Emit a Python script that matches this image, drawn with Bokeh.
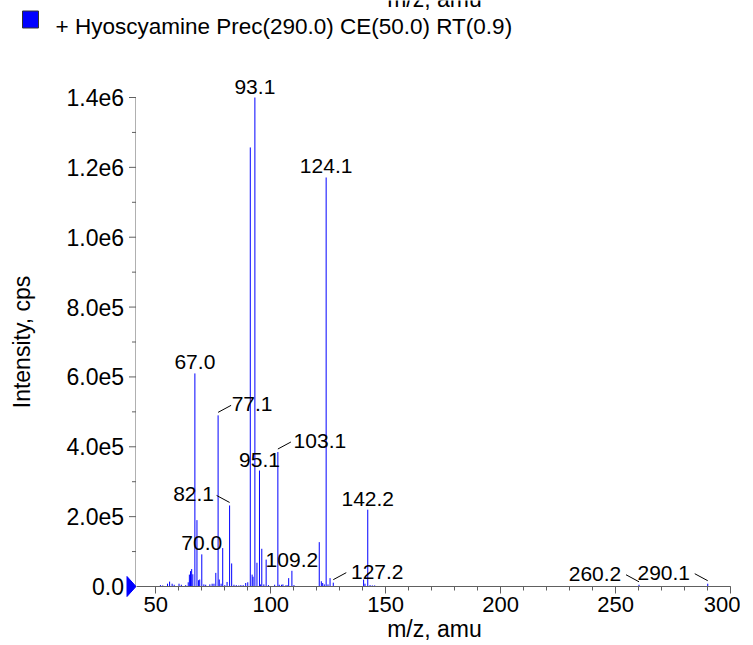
from bokeh.plotting import figure
from bokeh.layouts import column, row
from bokeh.models import Range1d, FixedTicker, LabelSet, ColumnDataSource
from bokeh.core.properties import value
from bokeh.embed import file_html
from bokeh.resources import INLINE
import math

# ---------------- data ----------------
series_name = "+ Hyoscyamine Prec(290.0) CE(50.0) RT(0.9)"
x_label = "m/z, amu"
y_label = "Intensity, cps"

mz = [52.0, 53.0, 55.1, 56.0, 57.1, 58.0, 60.1, 61.1, 63.0, 64.1, 64.6, 65.1, 65.6, 66.1,
      67.0, 67.9, 68.6, 69.1, 70.0, 70.9, 71.7, 73.5, 74.5, 75.3, 76.1, 77.1, 77.6, 78.4,
      79.1, 80.0, 81.0, 82.1, 83.0, 84.0, 85.0, 86.1, 87.0, 88.0, 89.1, 90.0, 91.1, 91.9,
      92.3, 93.1, 94.0, 95.1, 95.5, 96.1, 97.0, 98.0, 99.0, 101.7, 103.1, 103.7, 104.7,
      105.3, 106.5, 107.1, 107.8, 109.2, 110.1, 121.1, 122.0, 122.6, 123.3, 124.1, 124.9,
      125.8, 127.2, 140.4, 141.0, 142.2, 143.2, 144.2, 145.2, 260.2, 290.1]
intensity = [4e3, 3e3, 8e3, 14e3, 8e3, 5e3, 8e3, 5e3, 4e3, 12e3, 34e3, 44e3, 50e3, 35e3,
             610e3, 190e3, 18e3, 20e3, 92e3, 6e3, 5e3, 6e3, 8e3, 8e3, 39e3, 490e3, 20e3, 8e3,
             110e3, 4e3, 13e3, 232e3, 66e3, 5e3, 4e3, 3e3, 4e3, 4e3, 10e3, 12e3, 1257e3, 34e3,
             28e3, 1400e3, 68e3, 332e3, 6e3, 108e3, 6e3, 77e3, 4e3, 5e3, 385e3, 5e3, 5e3,
             6e3, 3e3, 4e3, 24e3, 45e3, 4e3, 127e3, 15e3, 10e3, 6e3, 1171e3, 6e3,
             24e3, 11e3, 20e3, 8e3, 220e3, 4e3, 3e3, 3e3, 5e3, 8e3]

labelled_mz = [67.0, 70.0, 77.1, 82.1, 93.1, 95.1, 103.1, 109.2, 124.1, 127.2, 142.2, 260.2, 290.1]

x_ticks = [50, 100, 150, 200, 250, 300]
y_ticks = [0, 200000, 400000, 600000, 800000, 1000000, 1200000, 1400000]
y_tick_labels = ["0.0", "2.0e5", "4.0e5", "6.0e5", "8.0e5", "1.0e6", "1.2e6", "1.4e6"]
y_minor_step = 100000

# ---------------- layout / style ----------------
FONT = "Liberation Sans"
XA, XB = 41.6, 300          # axis extent (m/z)
YA, YB = 0, 1.4e6           # axis extent (intensity)
AXW, AXH = 594, 489         # axis lengths in px
xpp = (XB - XA) / AXW
ypp = (YB - YA) / AXH
PAD_R, PAD_T, PAD_B = 2, 58, 13
FW = AXW + PAD_R
FH = AXH + PAD_T
LW = 136                    # width of the left strip that carries the y axis
HEAD_H = 39
TOTAL_W = LW + FW + 8
BLUE = "#0000ff"
AXIS = "#606060"
TXT = "black"


def bare(fig):
    fig.xgrid.visible = False
    fig.ygrid.visible = False
    fig.outline_line_color = None
    fig.background_fill_color = "white"
    fig.border_fill_color = "white"


# ---------- header: series swatch and name ----------
head = figure(frame_width=TOTAL_W, frame_height=HEAD_H, min_border=0,
              x_range=Range1d(0, TOTAL_W), y_range=Range1d(0, HEAD_H),
              x_axis_location=None, y_axis_location=None,
              output_backend="svg", toolbar_location=None)
bare(head)
# bottom of the previous panel's x-axis title, cut by the page top (as in the source)
head.text(x=[LW + FW / 2], y=[HEAD_H + 2], text=[x_label], text_font=value(FONT),
          text_font_size=value("23px"), text_color=TXT,
          text_align="center", text_baseline="alphabetic")
head.quad(left=[22], right=[38], bottom=[11.5], top=[28.5],
          fill_color=BLUE, line_color="#333333", line_width=1)
head.text(x=[55], y=[13.5], text=[series_name], text_font=value(FONT),
          text_font_size=value("22.5px"), text_color=TXT,
          text_align="left", text_baseline="alphabetic")

# ---------- left strip: y axis drawn from the tick lists ----------
left = figure(frame_width=LW, frame_height=FH + PAD_B, min_border=0,
              x_range=Range1d(0, LW), y_range=Range1d(YA - PAD_B * ypp, YB + PAD_T * ypp),
              x_axis_location=None, y_axis_location=None,
              output_backend="svg", toolbar_location=None)
bare(left)
ax_x = LW - 0.5
minor = [v for v in range(int(YA), int(YB) + 1, y_minor_step) if v not in y_ticks]
left.segment(x0=[ax_x], y0=[YA], x1=[ax_x], y1=[YB], line_color=AXIS, line_width=1)
left.segment(x0=[ax_x - 7] * len(y_ticks), y0=y_ticks, x1=[ax_x] * len(y_ticks), y1=y_ticks,
             line_color=AXIS, line_width=1)
left.segment(x0=[ax_x - 4] * len(minor), y0=minor, x1=[ax_x] * len(minor), y1=minor,
             line_color=AXIS, line_width=1)
left.text(x=[ax_x - 12] * len(y_ticks), y=y_ticks, text=y_tick_labels,
          text_font=value(FONT), text_font_size=value("23px"), text_color=TXT,
          text_align="right", text_baseline="middle")
left.text(x=[21], y=[(YA + YB) / 2], text=[y_label], angle=math.pi / 2,
          text_font=value(FONT), text_font_size=value("23px"), text_color=TXT,
          text_align="center", text_baseline="middle")
# blue origin marker (points at zero intensity)
left.patch(x=[ax_x - 9, ax_x, ax_x - 9], y=[YA - 10 * ypp, YA, YA + 10 * ypp],
           fill_color=BLUE, line_color=BLUE, line_width=1)

# ---------- main spectrum ----------
p = figure(frame_width=FW, frame_height=FH, min_border_left=0, min_border_top=0,
           min_border_right=8, min_border_bottom=0,
           x_range=Range1d(XA, XB + PAD_R * xpp),
           y_range=Range1d(YA, YB + PAD_T * ypp),
           y_axis_location=None,
           output_backend="svg", toolbar_location=None)
bare(p)

p.segment(x0=mz, y0=[0] * len(mz), x1=mz, y1=intensity, line_color=BLUE, line_width=1)

lookup = dict(zip(mz, intensity))
side = {77.1: 34, 103.1: 42, 82.1: -36, 127.2: 44, 260.2: -44, 290.1: -44}
lx, ly, lt, xo, yo = [], [], [], [], []
sx0, sy0, sx1, sy1 = [], [], [], []
for m in labelled_mz:
    h = lookup[m]
    lx.append(m); ly.append(h); lt.append(f"{m:.1f}")
    dx = side.get(m, 0)
    xo.append(dx); yo.append(4)
    if dx:
        s = 1 if dx > 0 else -1
        sx0.append(m); sy0.append(h + 3 * ypp)
        sx1.append(m + s * 13 * xpp); sy1.append(h + 10 * ypp)

p.segment(x0=sx0, y0=sy0, x1=sx1, y1=sy1, line_color="black", line_width=1)
src = ColumnDataSource(dict(x=lx, y=ly, t=lt, xo=xo, yo=yo))
p.add_layout(LabelSet(x="x", y="y", text="t", x_offset="xo", y_offset="yo", source=src,
                      text_align="center", text_baseline="alphabetic",
                      text_font=value(FONT), text_font_size=value("21px"),
                      text_color=value(TXT)))

ax = p.xaxis[0]
ax.axis_line_color = AXIS
ax.major_tick_line_color = AXIS
ax.minor_tick_line_color = AXIS
ax.major_tick_in = 0
ax.minor_tick_in = 0
ax.major_tick_out = 7
ax.minor_tick_out = 4
ax.major_label_text_font = FONT
ax.major_label_text_font_size = "22px"
ax.major_label_text_color = TXT
ax.axis_label_text_font = FONT
ax.axis_label_text_font_size = "23px"
ax.axis_label_text_font_style = "normal"
ax.axis_label_text_color = TXT
ax.ticker = FixedTicker(ticks=x_ticks, minor_ticks=list(range(50, 301, 10)))
ax.axis_label = x_label
ax.major_label_standoff = 3
ax.axis_label_standoff = 1
ax.bounds = (XA, XB)

layout = column(head, row(left, p, spacing=0), spacing=0)
open("out.html", "w").write(file_html(layout, INLINE))
